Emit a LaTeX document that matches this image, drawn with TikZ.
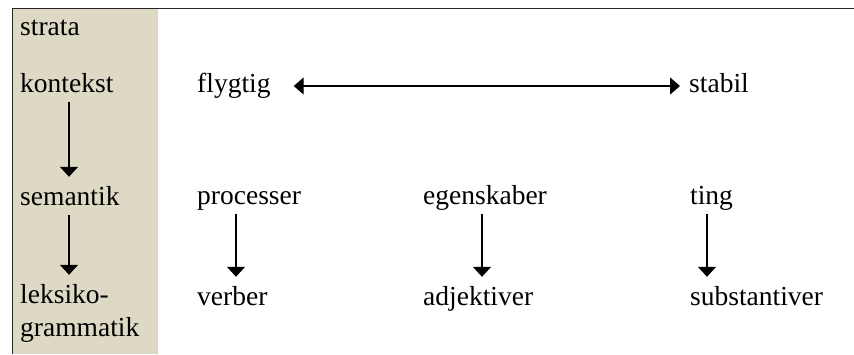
\documentclass[tikz,border=0pt]{standalone}
\usepackage{fontspec}
\setmainfont{Liberation Serif}
\usetikzlibrary{arrows.meta}
\definecolor{stratabg}{HTML}{DDD9C4}
\tikzset{
  lbl/.style={anchor=base west, inner sep=0pt, text height=19pt, text depth=7pt,
              font=\fontsize{27.5}{32}\selectfont},
  tip/.style={-{Triangle[width=18pt,length=10pt]}},
  realize/.style={draw=black, line width=1.3pt, tip, shorten <=3pt, shorten >=9pt},
  cline/.style={draw=black, line width=1.3pt,
                {Triangle[width=17pt,length=10pt]}-{Triangle[width=17pt,length=10pt]}},
  frame/.style={draw=black!85, line width=1.5pt}
}
\begin{document}
\begin{tikzpicture}[x=1pt,y=-1pt]
  \useasboundingbox (0,0) rectangle (854,354);
  % shaded strata column and frame
  \fill[stratabg] (12.5,8.5) rectangle (158,354);
  \draw[frame] (854,8.5) -- (12.5,8.5) -- (12.5,354);

  % strata column
  \node[lbl] (strata) at (20,35)  {strata};
  \node[lbl] (kont)   at (20,92)  {kontekst};
  \node[lbl] (sem)    at (20,205) {semantik};
  \node[lbl] (leks)   at (20,303) {leksiko-};
  \node[lbl] (gram)   at (20,336) {grammatik};

  % context row
  \node[lbl] (flyg) at (197,92) {flygtig};
  \node[lbl] (stab) at (689,92) {stabil};

  % semantic row
  \node[lbl] (proc) at (197,204) {processer};
  \node[lbl] (egen) at (423,204) {egenskaber};
  \node[lbl] (ting) at (690,204) {ting};

  % lexicogrammar row
  \node[lbl] (verb) at (197,305) {verber};
  \node[lbl] (adj)  at (423,305) {adjektiver};
  \node[lbl] (subst) at (690,305) {substantiver};

  % x positions of the vertical arrows
  \coordinate (xk) at (69,0);
  \coordinate (xp) at (236,0);
  \coordinate (xe) at (482,0);
  \coordinate (xt) at (707,0);

  \draw[realize] (kont.south -| xk) -- (sem.north -| xk);
  \draw[realize] (sem.south -| xk)  -- (leks.north -| xk);
  \draw[realize] (proc.south -| xp) -- (verb.north -| xp);
  \draw[realize] (egen.south -| xe) -- (adj.north -| xe);
  \draw[realize] (ting.south -| xt) -- (subst.north -| xt);

  % cline between fleeting and stable
  \draw[cline, shorten <=23pt, shorten >=9pt] (flyg.east) -- (stab.west);
\end{tikzpicture}
\end{document}
